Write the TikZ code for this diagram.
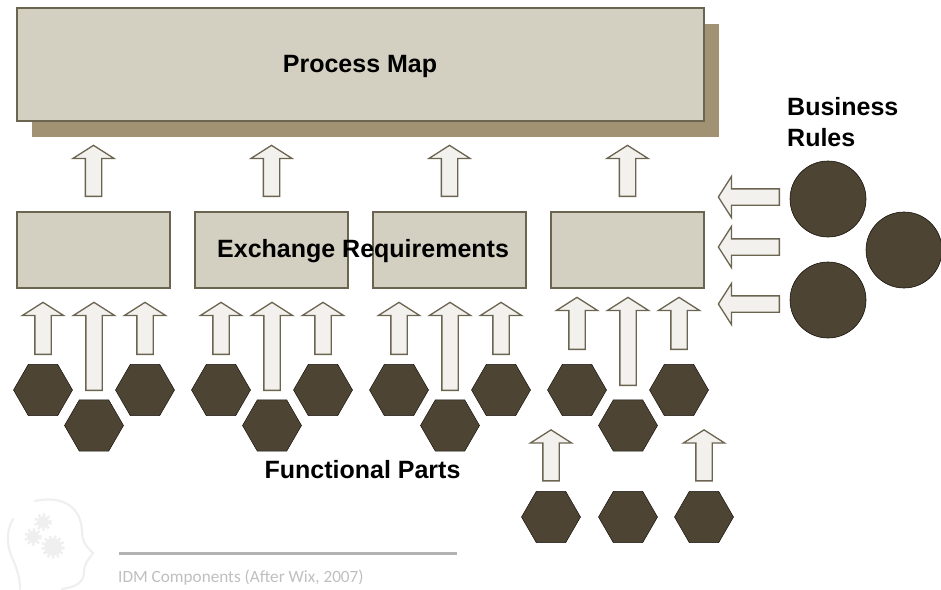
\documentclass[tikz,border=0pt]{standalone}
\usepackage{fontspec}
\setmainfont{Liberation Sans}
\newfontfamily\captionfont{Carlito}
\usepackage{tikz}
\usetikzlibrary{positioning, shapes.arrows, shapes.geometric}

\definecolor{boxfill}{HTML}{D3CFC1}
\definecolor{boxedge}{HTML}{6B6450}
\definecolor{shadowfill}{HTML}{A09272}
\definecolor{darkpart}{HTML}{4D4433}
\definecolor{arrowfill}{HTML}{F3F1ED}
\definecolor{iconline}{HTML}{EFEFEF}

\tikzset{
	mapbox/.style={draw=boxedge, line width=1.2pt, fill=boxfill, minimum width=153pt, minimum height=76pt, inner sep=0pt},
	part/.style={regular polygon, regular polygon sides=6, draw=black!70!darkpart, line width=0.5pt, fill=darkpart, minimum size=59pt, inner sep=0pt},
	rulecircle/.style={circle, draw=black!70!darkpart, line width=0.6pt, fill=darkpart, minimum size=76pt, inner sep=0pt},
	blockarrow/.style={single arrow, draw=boxedge, line width=1.3pt, fill=arrowfill, anchor=tail, inner xsep=0pt, inner ysep=7.5pt,
		minimum width=41pt, single arrow head extend=12.5pt, single arrow tip angle=115, single arrow head indent=0pt},
	label/.style={font=\bfseries\fontsize{25}{30}\selectfont, black, inner sep=0pt},
}

\begin{document}
\begin{tikzpicture}[x=1pt, y=-1pt]
	\useasboundingbox (0, 0) rectangle (941, 589);

	\node[draw=none, fill=shadowfill, minimum width=687pt, minimum height=113pt, inner sep=0pt] (shadow) at (375.5, 80.5) {};
	\node[mapbox, minimum width=687pt, minimum height=113pt] (map) at (360.5, 64.5) {};
	\node[label] (maplabel) at (360, 66) {Process Map};

	\foreach \n/\x in {1/93.5,2/271.5,3/449.5,4/627.5} {
		\node[mapbox] (req\n) at (\x, 250) {};
		\node[blockarrow, rotate=90, minimum height=51pt] (up\n) at (\x, 197) {};
	};
	\node[label, anchor=west] (reqlabel) at (217, 251) {Exchange Requirements};

	% functional parts, three per group
	\foreach \g/\x/\y in {1/94/0,2/272/0,3/450/0,4/628/-5} {
		\node[part] (p\g a) at (\x-51, 390) {};
		\node[part] (p\g b) at (\x, 425.5) {};
		\node[part] (p\g c) at (\x+51, 390) {};
		\node[blockarrow, rotate=90, minimum height=52pt] (a\g a) at (\x-51, 355+\y) {};
		\node[blockarrow, rotate=90, minimum height=88pt] (a\g b) at (\x, 391+\y) {};
		\node[blockarrow, rotate=90, minimum height=52pt] (a\g c) at (\x+51, 355+\y) {};
	};

	\foreach \n/\x in {a/551,b/628,c/704} {
		\node[part] (low\n) at (\x, 517) {};
	};
	\node[blockarrow, rotate=90, minimum height=51pt] (lowup1) at (551, 481.5) {};
	\node[blockarrow, rotate=90, minimum height=51pt] (lowup2) at (704, 481.5) {};

	\node[label] (partslabel) at (362.5, 470) {Functional Parts};

	% business rules
	\foreach \n/\x/\y in {1/828/199,2/904/250,3/828/300} {
		\node[rulecircle] (rule\n) at (\x, \y) {};
	};
	\foreach \n/\y in {1/197,2/247,3/304} {
		\node[blockarrow, rotate=180, minimum height=61pt] (left\n) at (780, \y) {};
	};
	\node[label, anchor=north west, align=left, font=\bfseries\fontsize{25}{31}\selectfont] (rulelabel) at (787, 97) {Business\\Rules};

	% caption and head icon
	\draw[line width=3pt, black!30] (119, 553) -- (457, 553);
	\node[font=\captionfont\fontsize{17.2}{20}\selectfont, text=black!25, anchor=west, inner sep=0pt] (caption) at (118, 578) {IDM Components (After Wix, 2007)};

	\draw[iconline, line width=2.2pt, line cap=round] (35, 501) .. controls (58, 496) and (80, 503) .. (82, 530) .. controls (82, 542) and (86, 546) .. (93, 553) .. controls (88, 560) and (84, 564) .. (84, 572) .. controls (84, 583) and (75, 587) .. (62, 589);
	\draw[iconline, line width=2.2pt, line cap=round] (13, 519) .. controls (5, 533) and (7, 548) .. (14, 562) .. controls (18, 572) and (20, 580) .. (20, 589);
	\foreach \n/\x/\y/\r in {a/43/522/6,b/33/537/6,c/53/547/9} {
		\fill[iconline] (\x, \y) circle (\r);
		\draw[iconline, line width=2.5pt, dash pattern=on 2.5pt off 2.5pt] (\x, \y) circle (\r+1.5);
	};
\end{tikzpicture}
\end{document}
